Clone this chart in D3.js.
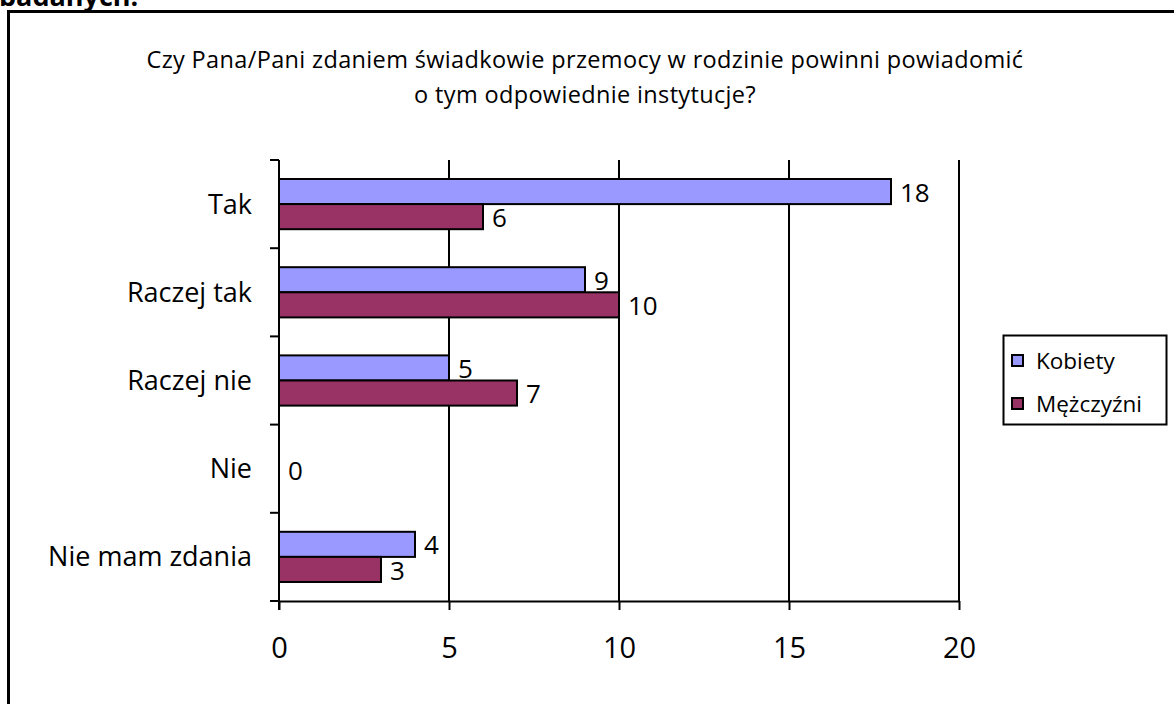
<!DOCTYPE html>
<html>
<head>
<meta charset="utf-8">
<script src="https://cdn.jsdelivr.net/npm/d3@7"></script>
<style>
	body { margin: 0; background: #fff; }
	svg text { font-family: "Open Sans", sans-serif; fill: #000; }
</style>
</head>
<body>
<div id="chart"></div>
<script>
const categories = ["Tak", "Raczej tak", "Raczej nie", "Nie", "Nie mam zdania"];
const seriesNames = ["Kobiety", "Mężczyźni"];
const kobiety = [18, 9, 5, 0, 4];
const mezczyzni = [6, 10, 7, 0, 3];
const xTicks = [0, 5, 10, 15, 20];
const colors = ["#9999ff", "#993366"];

const svg = d3.select("#chart")
	.append("svg")
	.attr("width", 1174)
	.attr("height", 704);

// cut-off caption from the page above
svg.append("text")
	.attr("x", -1)
	.attr("y", 6)
	.style("font-weight", "bold")
	.style("font-size", "27px")
	.text("badanych.");

// chart border
svg.append("rect")
	.attr("x", 8.5)
	.attr("y", 11.5)
	.attr("width", 1180)
	.attr("height", 710)
	.attr("fill", "none")
	.attr("stroke", "#000")
	.attr("stroke-width", 3);

const title = svg.append("text")
	.attr("text-anchor", "middle")
	.style("font-size", "23.5px")
	.style("letter-spacing", "0.35px");
title.append("tspan").attr("x", 585).attr("y", 68)
	.text("Czy Pana/Pani zdaniem świadkowie przemocy w rodzinie powinni powiadomić");
title.append("tspan").attr("x", 585).attr("y", 103)
	.text("o tym odpowiednie instytucje?");

const x = d3.scaleLinear().domain([0, 20]).range([279, 959]);
const y = d3.scaleBand().domain(categories).range([160, 601]);
const inner = d3.scaleBand().domain(seriesNames).range([19, y.bandwidth() - 19]);

// vertical gridlines
svg.append("g")
	.selectAll("line")
	.data(xTicks.slice(1))
	.enter()
	.append("line")
	.attr("x1", (d) => x(d))
	.attr("x2", (d) => x(d))
	.attr("y1", 160)
	.attr("y2", 601)
	.attr("stroke", "#000")
	.attr("stroke-width", 2);

// x axis
const xAxis = svg.append("g")
	.attr("transform", "translate(0,601)")
	.call(d3.axisBottom(x).tickValues(xTicks).tickSize(9).tickPadding(27).tickSizeOuter(0));
xAxis.select(".domain").attr("stroke-width", 2);
xAxis.selectAll(".tick line").attr("stroke-width", 2);
xAxis.selectAll("text").style("font-size", "29px").style("font-family", "'Open Sans', sans-serif");

// y axis with ticks at category boundaries
svg.append("line")
	.attr("x1", 279).attr("x2", 279)
	.attr("y1", 160).attr("y2", 610)
	.attr("stroke", "#000").attr("stroke-width", 2);
svg.append("g")
	.selectAll("line")
	.data(categories.concat(["end"]))
	.enter()
	.append("line")
	.attr("x1", 270).attr("x2", 279)
	.attr("y1", (d, i) => 160 + i * y.step())
	.attr("y2", (d, i) => 160 + i * y.step())
	.attr("stroke", "#000").attr("stroke-width", 2);

svg.append("g")
	.selectAll("text")
	.data(categories)
	.enter()
	.append("text")
	.attr("x", 252)
	.attr("y", (d) => y(d) + y.bandwidth() / 2)
	.attr("dy", "0.35em")
	.attr("text-anchor", "end")
	.style("font-size", "27px")
	.text((d) => d);

const rows = [];
categories.forEach((c, i) => {
	rows.push({ cat: c, s: seriesNames[0], v: kobiety[i], color: colors[0] });
	rows.push({ cat: c, s: seriesNames[1], v: mezczyzni[i], color: colors[1] });
});

const bars = rows.filter((d) => d.v > 0);
svg.append("g")
	.selectAll("rect")
	.data(bars)
	.enter()
	.append("rect")
	.attr("x", x(0))
	.attr("y", (d) => y(d.cat) + inner(d.s))
	.attr("width", (d) => x(d.v) - x(0))
	.attr("height", inner.bandwidth())
	.attr("fill", (d) => d.color)
	.attr("stroke", "#000")
	.attr("stroke-width", 2);

// value labels; the zero category shows a single label
const labels = rows.filter((d) => d.v > 0 || d.s === seriesNames[1]);
svg.append("g")
	.selectAll("text")
	.data(labels)
	.enter()
	.append("text")
	.attr("x", (d) => x(d.v) + 9)
	.attr("y", (d) => d.v === 0
		? y(d.cat) + y.bandwidth() / 2 + 2
		: y(d.cat) + inner(d.s) + inner.bandwidth() / 2 + 1)
	.attr("dy", "0.35em")
	.style("font-size", "26px")
	.text((d) => d.v);

// legend
const legend = svg.append("g").attr("transform", "translate(1003,335)");
legend.append("rect")
	.attr("x", 0.5).attr("y", 0.5)
	.attr("width", 163).attr("height", 89)
	.attr("fill", "#fff")
	.attr("stroke", "#000")
	.attr("stroke-width", 2);
const items = legend.selectAll("g.item")
	.data(seriesNames)
	.enter()
	.append("g")
	.attr("class", "item")
	.attr("transform", (d, i) => "translate(9," + (26 + i * 43) + ")");
items.append("rect")
	.attr("x", 0).attr("y", -6)
	.attr("width", 11).attr("height", 11)
	.attr("fill", (d, i) => colors[i])
	.attr("stroke", "#000")
	.attr("stroke-width", 2);
items.append("text")
	.attr("x", 24)
	.attr("dy", "0.35em")
	.style("font-size", "22.5px")
	.text((d) => d);
</script>
</body>
</html>
